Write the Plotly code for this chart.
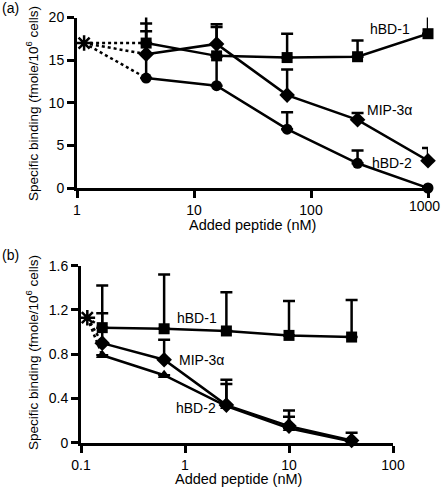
import plotly.graph_objects as go

W, H = 442, 489

# ---------------- Data: panel (a) ----------------
xa = [3.9, 15.6, 62.5, 250, 1000]
hbd1_a = [17.0, 15.5, 15.3, 15.4, 18.1]
hbd1_a_err = [3.2, 3.4, 2.8, 1.9, 2.5]
mip_a = [15.7, 16.9, 10.9, 8.0, 3.2]
mip_a_err = [3.6, 2.3, 3.0, 0.8, 1.5]
hbd2_a = [12.9, 12.0, 6.9, 2.9, 0.0]
hbd2_a_err = [5.5, 3.4, 2.0, 1.5, 0.0]
star_a = (1.15, 17.0)
xa_ticks = [1, 10, 100, 1000]
xa_ticktext = ["1", "10", "100", "1000"]
ya_ticks = [0, 5, 10, 15, 20]

# ---------------- Data: panel (b) ----------------
xb = [0.16, 0.63, 2.5, 10, 40]
hbd1_b = [1.04, 1.03, 1.01, 0.97, 0.955]
hbd1_b_err = [0.38, 0.49, 0.35, 0.31, 0.335]
mip_b = [0.90, 0.75, 0.34, 0.15, 0.02]
mip_b_err = [0.27, 0.18, 0.23, 0.14, 0.07]
hbd2_b = [0.79, 0.61, 0.33, 0.13, 0.01]
hbd2_b_err = [0.0, 0.0, 0.20, 0.105, 0.0]
star_b = (0.115, 1.13)
xb_ticks = [0.1, 1, 10, 100]
yb_ticks = [0, 0.4, 0.8, 1.2, 1.6]

FONT = "Liberation Sans, Arial, Helvetica, sans-serif"
LW = 2.5


def px(x):
    return x / W


def py(y):
    return 1 - y / H


fig = go.Figure()


def add_series(x, y, err, symbol, xref, yref, size=11):
    fig.add_trace(go.Scatter(
        x=x, y=y, mode="lines+markers",
        line=dict(color="black", width=LW),
        marker=dict(symbol=symbol, size=size, color="black"),
        error_y=dict(type="data", symmetric=False, array=err,
                     arrayminus=[0] * len(err), width=6, thickness=LW,
                     color="black"),
        xaxis=xref, yaxis=yref, cliponaxis=False, showlegend=False))


def add_dotted(star, x, y, xref, yref):
    fig.add_trace(go.Scatter(
        x=[star[0], x[0]], y=[star[1], y[0]], mode="lines",
        line=dict(color="black", width=LW, dash="dot"),
        xaxis=xref, yaxis=yref, cliponaxis=False, showlegend=False))


def add_star(star, xref, yref):
    fig.add_trace(go.Scatter(
        x=[star[0]], y=[star[1]], mode="markers",
        marker=dict(symbol="asterisk-open", size=13, color="black",
                    line=dict(color="black", width=2.5)),
        xaxis=xref, yaxis=yref, cliponaxis=False, showlegend=False))


# panel (a)
for ser in (hbd1_a, mip_a, hbd2_a):
    add_dotted(star_a, xa, ser, "x", "y")
add_series(xa, hbd1_a, hbd1_a_err, "square", "x", "y")
add_series(xa, mip_a, mip_a_err, "diamond", "x", "y", size=12)
add_series(xa, hbd2_a, hbd2_a_err, "circle", "x", "y")
add_star(star_a, "x", "y")

# panel (b)
for ser in (hbd1_b, mip_b, hbd2_b):
    add_dotted(star_b, xb, ser, "x2", "y2")
add_series(xb, hbd1_b, hbd1_b_err, "square", "x2", "y2")
add_series(xb, mip_b, mip_b_err, "diamond", "x2", "y2", size=12)
add_series(xb, hbd2_b, hbd2_b_err, "triangle-up", "x2", "y2")
add_star(star_b, "x2", "y2")

axis_common = dict(showline=True, linecolor="black", linewidth=3,
                   ticks="outside", ticklen=7, tickwidth=3, tickcolor="black",
                   showgrid=False, zeroline=False, automargin=False,
                   ticklabeloverflow="allow",
                   tickfont=dict(family=FONT, size=14, color="black"))

fig.update_layout(
    width=W, height=H,
    margin=dict(l=0, r=0, t=0, b=0, autoexpand=False),
    paper_bgcolor="white", plot_bgcolor="white",
    font=dict(family=FONT, size=14, color="black"),
    hovermode=False,
    xaxis=dict(type="log", range=[0, 3], domain=[px(77), px(428)],
               anchor="y", tickvals=xa_ticks,
               ticktext=xa_ticktext[:-1] + [""], **axis_common),
    yaxis=dict(range=[0, 20], domain=[py(188), py(17.5)],
               anchor="x", tickvals=ya_ticks,
               ticktext=[str(v) for v in ya_ticks], **axis_common),
    xaxis2=dict(type="log", range=[-1, 2], domain=[px(81), px(393)],
                anchor="y2", tickvals=xb_ticks,
                ticktext=["0.1", "1", "10", "100"], **axis_common),
    yaxis2=dict(range=[0, 1.6], domain=[py(442.7), py(265.7)],
                anchor="x2", tickvals=yb_ticks,
                ticktext=["0", "0.4", "0.8", "1.2", "1.6"], **axis_common),
)


def ann(text, x, y, size=14, angle=0, xanchor="center", yanchor="middle"):
    fig.add_annotation(text=text, x=px(x), y=py(y), xref="paper",
                       yref="paper", showarrow=False, textangle=angle,
                       xanchor=xanchor, yanchor=yanchor,
                       font=dict(family=FONT, size=size, color="black"))


ytitle = "Specific binding (fmole/10<sup>6</sup> cells)"
# last tick label of panel (a) sits at the page edge: drawn right-aligned
ann(xa_ticktext[-1], 442, 206, xanchor="right")
ann("(a)", 0, 8, xanchor="left")
ann("(b)", 0, 255, xanchor="left")
ann(ytitle, 32, 104, size=13.5, angle=-90)
ann(ytitle, 32, 353, size=13.5, angle=-90)
ann("Added peptide (nM)", 253, 225, size=14.5)
ann("Added peptide (nM)", 239, 479, size=14.5)
# series labels (a)
ann("hBD-1", 390, 29)
ann("MIP-3α", 389, 110)
ann("hBD-2", 392, 163)
# series labels (b)
ann("hBD-1", 197, 318)
ann("MIP-3α", 201, 360)
ann("hBD-2", 196, 408)

fig.write_html(
    "out.html",
    config={"displayModeBar": False},
    post_script="document.body.style.margin='0';"
                "document.body.style.overflow='hidden';",
)
